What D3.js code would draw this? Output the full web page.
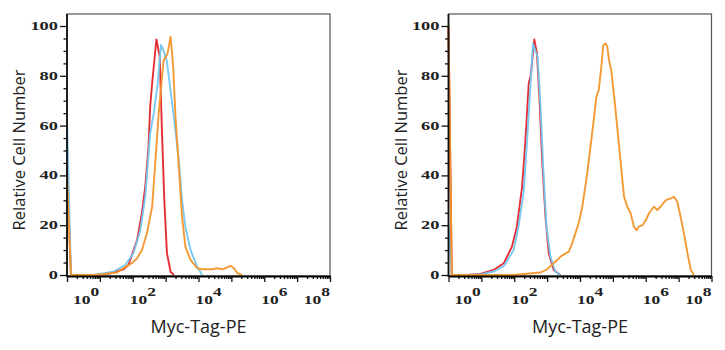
<!DOCTYPE html>
<html>
<head>
<meta charset="utf-8">
<script src="https://cdn.jsdelivr.net/npm/d3@7"></script>
<style>
  html, body { margin: 0; padding: 0; background: #fff; }
  svg { display: block; }
</style>
</head>
<body>
<svg id="chart" width="725" height="350"></svg>
<script>
// Flow cytometry histograms: Myc-Tag-PE fluorescence (log10 intensity) vs relative cell number.

const decadeTicks = [1, 1e1, 1e2, 1e3, 1e4, 1e5, 1e6, 1e7, 1e8];
const labelledDecades = [0, 2, 4, 6, 8];
const countTicks = [0, 20, 40, 60, 80, 100];
const xTitle = "Myc-Tag-PE";
const yTitle = "Relative Cell Number";

const colors = { red: "#e5232b", blue: "#72c6ef", orange: "#f3952a" };

// Left panel
const leftRedLog   = [0, 0.12, 0.9, 1.31, 1.72, 1.87, 2.13, 2.28, 2.38, 2.48, 2.53, 2.59, 2.72, 2.82, 2.89, 2.96, 3.04, 3.15, 3.25];
const leftRedCount = [45, 0, 0, 0.7, 2.3, 4, 14, 25, 35.5, 51.5, 67.6, 77, 94.6, 87.7, 57, 30, 8.8, 1.3, 0];

const leftBlueLog   = [0, 0.12, 0.8, 1.41, 1.77, 2.02, 2.23, 2.38, 2.53, 2.64, 2.76, 2.86, 2.94, 3.04, 3.15, 3.25, 3.4, 3.5, 3.6, 3.76, 3.96, 4.11];
const leftBlueCount = [62, 0, 0, 1.3, 4, 8.7, 18, 31.5, 57, 65, 77, 92.4, 90, 85.7, 74, 63.6, 46, 30, 19.4, 10, 3.3, 0];

const leftOrangeLog   = [0, 0.12, 0.9, 1.52, 1.77, 1.97, 2.13, 2.28, 2.43, 2.59, 2.69, 2.79, 2.89, 2.94, 3.01, 3.06, 3.15, 3.23, 3.30, 3.40, 3.50, 3.60, 3.76, 3.96, 4.12, 4.27, 4.42, 4.57, 4.72, 4.85, 4.98, 5.08, 5.18, 5.33];
const leftOrangeCount = [40, 0, 0, 1, 3.2, 4.7, 6.7, 10, 16.7, 27.4, 46, 65, 79.6, 86.3, 87.7, 89, 95.7, 83.7, 63.6, 43.5, 23.4, 11.4, 6, 2.7, 2.3, 2.3, 2.3, 2.7, 2.3, 3, 3.7, 2.7, 0.8, 0];

// Right panel
const rightRedLog   = [0, 0.1, 0.56, 0.97, 1.37, 1.68, 1.93, 2.08, 2.24, 2.34, 2.44, 2.5, 2.61, 2.69, 2.77, 2.85, 2.95, 3.05, 3.2, 3.4];
const rightRedCount = [100, 0, 0, 0.4, 2, 4.7, 11.4, 19.4, 35.5, 54, 77, 80, 94.6, 89, 70, 46, 23.4, 8.7, 2, 0];

const rightBlueLog   = [0, 0.1, 0.6, 1.0, 1.4, 1.68, 1.98, 2.13, 2.29, 2.39, 2.49, 2.57, 2.64, 2.71, 2.80, 2.88, 2.98, 3.1, 3.25, 3.4];
const rightBlueCount = [20, 0, 0, 0.3, 1.5, 3.5, 10, 19.4, 34, 54, 75.6, 93, 90, 87.7, 67.6, 43.5, 19.4, 7.4, 1.3, 0];

const rightOrangeLog   = [0, 0.1, 1.98, 2.39, 2.8, 3.0, 3.2, 3.41, 3.56, 3.66, 3.76, 3.86, 3.96, 4.07, 4.22, 4.37, 4.50, 4.57, 4.65, 4.71, 4.78, 4.83, 4.88, 4.95, 5.05, 5.13, 5.23, 5.34, 5.44, 5.54, 5.64, 5.72, 5.79, 5.9, 6.0, 6.1, 6.25, 6.35, 6.45, 6.61, 6.76, 6.86, 6.96, 7.06, 7.16, 7.27, 7.37, 7.47];
const rightOrangeCount = [100, 0, 0, 0.5, 1, 2.3, 4.7, 7.4, 8.7, 9.4, 12.7, 16.7, 20.8, 27.4, 40.8, 57, 71.6, 74.3, 83.7, 92.4, 93, 91.7, 86.3, 82.3, 70.3, 59.6, 46.2, 31.4, 27.4, 24.8, 19.4, 18, 19.4, 20, 22, 24.8, 27.4, 26.1, 27.4, 30.1, 30.8, 31.4, 29.4, 23.4, 16.7, 8.7, 2, 0];

const panels = [
  { left: 67, series: [
      { log: leftRedLog, count: leftRedCount, color: colors.red },
      { log: leftBlueLog, count: leftBlueCount, color: colors.blue },
      { log: leftOrangeLog, count: leftOrangeCount, color: colors.orange } ] },
  { left: 448.5, series: [
      { log: rightRedLog, count: rightRedCount, color: colors.red },
      { log: rightBlueLog, count: rightBlueCount, color: colors.blue },
      { log: rightOrangeLog, count: rightOrangeCount, color: colors.orange } ] }
];

const svg = d3.select("#chart");
const plotW = 263, frameTop = 14, frameBottom = 276;

const x = d3.scaleLog().domain([1, 1e8]).range([0, plotW]);
const y = d3.scaleLinear().domain([0, 100]).range([275, 26]);

// minor ticks 2..9 in each decade
const minorX = [];
decadeTicks.slice(0, -1).forEach(d => { for (let k = 2; k <= 9; k++) minorX.push(d * k); });
const minorY = d3.range(0, 101, 5).filter(v => v % 20 !== 0);

const serif = "'Liberation Serif', 'Times New Roman', serif";
const sans = "'Open Sans', 'Noto Sans', sans-serif";

panels.forEach(p => {
  const g = svg.append("g").attr("transform", `translate(${p.left},0)`);

  // frame
  g.append("rect")
    .attr("x", 0).attr("y", frameTop)
    .attr("width", plotW).attr("height", frameBottom - frameTop)
    .attr("fill", "none").attr("stroke", "#555").attr("stroke-width", 1.2);

  // histogram traces
  const line = d3.line()
    .x(d => x(Math.pow(10, d[0])))
    .y(d => y(d[1]));
  p.series.forEach(s => {
    const pts = s.log.map((v, i) => [v, s.count[i]]);
    g.append("path")
      .datum(pts)
      .attr("d", line)
      .attr("fill", "none")
      .attr("stroke", s.color)
      .attr("stroke-width", 1.9)
      .attr("stroke-linejoin", "round")
      .attr("opacity", 0.95);
  });

  // x axis: decade ticks (long) and minor ticks (short)
  const xAxisG = g.append("g").attr("transform", `translate(0,${frameBottom})`);
  xAxisG.append("g")
    .call(d3.axisBottom(x).tickValues(minorX).tickSize(3).tickSizeOuter(0).tickFormat(""))
    .call(a => a.select(".domain").remove());
  xAxisG.append("g")
    .call(d3.axisBottom(x).tickValues(decadeTicks).tickSize(6).tickSizeOuter(0).tickFormat(""))
    .call(a => a.select(".domain").attr("stroke-width", 2));
  xAxisG.selectAll(".tick line").attr("stroke", "#111").attr("stroke-width", 1.3);

  // decade labels 10^n
  labelledDecades.forEach((e, i) => {
    const last = i === labelledDecades.length - 1;
    const px = x(Math.pow(10, e)) + (i === 0 ? 6 : (last ? 0 : -3));
    const t = g.append("text")
      .attr("transform", `translate(${px},${frameBottom + 28}) scale(1.4,1)`)
      .attr("text-anchor", last ? "end" : "start")
      .attr("font-family", serif)
      .attr("font-weight", "bold")
      .attr("font-size", 12.5)
      .attr("fill", "#222");
    t.append("tspan").text("10");
    t.append("tspan").attr("dy", -8).text(e);
  });

  // y axis
  const yAxisG = g.append("g");
  yAxisG.append("g")
    .call(d3.axisLeft(y).tickValues(minorY).tickSize(3.5).tickSizeOuter(0).tickFormat(""))
    .call(a => a.select(".domain").remove());
  yAxisG.append("g")
    .call(d3.axisLeft(y).tickValues(countTicks).tickSize(7).tickSizeOuter(0).tickFormat(""))
    .call(a => a.select(".domain").remove());
  yAxisG.selectAll(".tick line").attr("stroke", "#111").attr("stroke-width", 1.3);
  g.append("line")
    .attr("x1", 0).attr("x2", 0).attr("y1", frameTop).attr("y2", frameBottom + 1)
    .attr("stroke", "#111").attr("stroke-width", 1.8);

  countTicks.forEach(v => {
    g.append("text")
      .attr("transform", `translate(-9,${y(v) + 4}) scale(1.6,1)`)
      .attr("text-anchor", "end")
      .attr("font-family", serif)
      .attr("font-weight", "bold")
      .attr("font-size", 11.5)
      .attr("fill", "#222")
      .text(v);
  });

  // axis titles
  g.append("text")
    .attr("x", plotW / 2).attr("y", 333)
    .attr("text-anchor", "middle")
    .attr("font-family", sans)
    .attr("font-size", 18)
    .attr("fill", "#222")
    .text(xTitle);

  g.append("text")
    .attr("transform", `translate(-42,150) rotate(-90)`)
    .attr("text-anchor", "middle")
    .attr("font-family", sans)
    .attr("font-size", 16.5)
    .attr("fill", "#222")
    .text(yTitle);
});
</script>
</body>
</html>
